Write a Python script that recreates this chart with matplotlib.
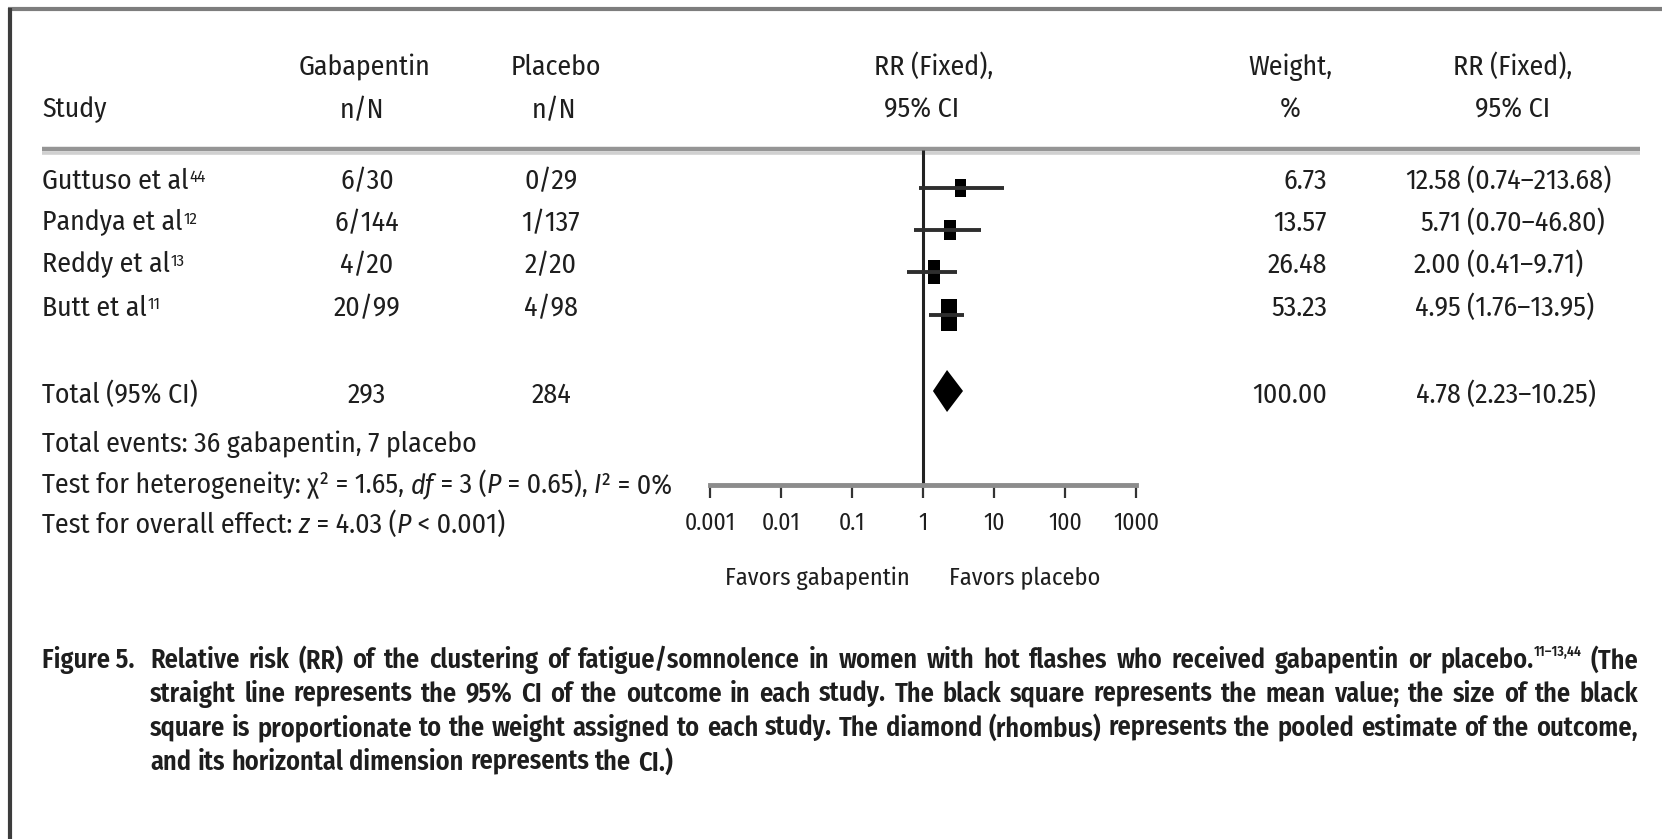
import matplotlib
matplotlib.use("Agg")
import matplotlib.pyplot as plt
from matplotlib.patches import Rectangle
from matplotlib.ticker import FixedLocator, FixedFormatter, NullLocator

plt.rcParams["font.family"] = ["Fira Sans Condensed", "DejaVu Sans"]

# ---- data -------------------------------------------------------------
studies = ["Guttuso et al", "Pandya et al", "Reddy et al", "Butt et al"]
study_refs = ["44", "12", "13", "11"]
gaba_nN = ["6/30", "6/144", "4/20", "20/99"]
plac_nN = ["0/29", "1/137", "2/20", "4/98"]
gaba_total = 293
plac_total = 284
weights = [6.73, 13.57, 26.48, 53.23]
total_weight = 100.00
rr_fixed = [12.58, 5.71, 2.00, 4.95]
rr_low = [0.74, 0.70, 0.41, 1.76]
rr_high = [213.68, 46.80, 9.71, 13.95]
total_rr = (4.78, 2.23, 10.25)

# marker positions as they sit on the printed log axis
plot_est = [3.4, 2.4, 1.43, 2.3]
plot_low = [0.88, 0.75, 0.60, 1.22]
plot_high = [13.8, 6.6, 3.0, 3.8]
plot_pooled = (2.18, 1.38, 3.66)

tick_values = [0.001, 0.01, 0.1, 1, 10, 100, 1000]
tick_labels = ["0.001", "0.01", "0.1", "1", "10", "100", "1000"]

caption_lines = [
    "straight line represents the 95% CI of the outcome in each study. The black square represents the mean value; the size of the black",
    "square is proportionate to the weight assigned to each study. The diamond (rhombus) represents the pooled estimate of the outcome,",
    "and its horizontal dimension represents the CI.)",
]

# ---- layout (pixel coordinates) ----------------------------------------
W, H = 1662, 839
FS = 20
CFS = 19
TXT = "#1e1e1e"
row_y = [181, 223, 265, 308]
total_y = 395
PX_PER_DEC = 71.0
CAP_X0, CAP_X1 = 150, 1638


def segments(ax, x, y, parts, fs):
    """Draw text pieces one after another; parts = [(text, style)]."""
    prev = None
    for s, style in parts:
        if prev is None:
            prev = ax.text(x, y, s, fontsize=fs, style=style, color=TXT,
                           ha="left", va="center")
        else:
            prev = ax.annotate(s, xy=(1, 0), xycoords=prev, fontsize=fs,
                               style=style, color=TXT, ha="left", va="bottom")
    return prev


def justify(ax, x0, x1, y, tokens, fill=True):
    """tokens = [(text, fontsize, yoffset, glued)]; spread words over x0..x1."""
    r = ax.figure.canvas.get_renderer()
    arts, widths = [], []
    for s, fs, dy, glued in tokens:
        t = ax.text(0, y + dy, s, fontsize=fs, color=TXT, weight="semibold",
                    ha="left", va="center" if dy == 0 else "top")
        arts.append(t)
        widths.append(t.get_window_extent(r).width)
    n_gaps = sum(1 for tk in tokens[1:] if not tk[3])
    space = CFS * 0.24 * 100 / 72
    if fill and n_gaps:
        space = (x1 - x0 - sum(widths)) / n_gaps
    x = x0
    for i, (t, w) in enumerate(zip(arts, widths)):
        if i and not tokens[i][3]:
            x += space
        t.set_x(x)
        x += w


fig = plt.figure(figsize=(W / 100, H / 100), dpi=100)
ax = fig.add_axes([0, 0, 1, 1])
ax.set_xlim(0, W)
ax.set_ylim(H, 0)
ax.axis("off")

# frame and header rule
ax.plot([8, W], [9, 9], color="#7d7d7d", lw=3, solid_capstyle="butt")
ax.plot([10, 10], [8, H], color="#3c3c3c", lw=3, solid_capstyle="butt")
ax.plot([42, 1640], [148.5, 148.5], color="#959595", lw=3.2, solid_capstyle="butt")
ax.plot([42, 1640], [153, 153], color="#d0d0d0", lw=2.6, solid_capstyle="butt")

# header
ax.text(42, 110, "Study", fontsize=FS, color=TXT, va="center")
for x, top in [(364, "Gabapentin"), (556, "Placebo")]:
    ax.text(x, 67, top, fontsize=FS, color=TXT, ha="center", va="center")
    ax.text(x - 2, 110, "n/N", fontsize=FS, color=TXT, ha="center", va="center")
ax.text(934, 67, "RR (Fixed),", fontsize=FS, color=TXT, ha="center", va="center")
ax.text(922, 110, "95% CI", fontsize=FS, color=TXT, ha="center", va="center")
ax.text(1290, 67, "Weight,", fontsize=FS, color=TXT, ha="center", va="center")
ax.text(1290, 110, "%", fontsize=FS, color=TXT, ha="center", va="center")
ax.text(1513, 67, "RR (Fixed),", fontsize=FS, color=TXT, ha="center", va="center")
ax.text(1513, 110, "95% CI", fontsize=FS, color=TXT, ha="center", va="center")


def rr_cell(y, est, lo, hi):
    ax.text(1461, y, f"{est:.2f}", fontsize=FS, color=TXT, ha="right", va="center")
    ax.text(1467, y, f"({lo:.2f}–{hi:.2f})", fontsize=FS, color=TXT, ha="left", va="center")


# study rows
for i, y in enumerate(row_y):
    t = ax.text(42, y, studies[i], fontsize=FS, color=TXT, va="center")
    ax.annotate(study_refs[i], xy=(1, 1), xycoords=t, xytext=(0.5, -1.5),
                textcoords="offset points", fontsize=12, color=TXT, ha="left", va="top")
    ax.text(367, y, gaba_nN[i], fontsize=FS, color=TXT, ha="center", va="center")
    ax.text(551, y, plac_nN[i], fontsize=FS, color=TXT, ha="center", va="center")
    ax.text(1327, y, f"{weights[i]:.2f}", fontsize=FS, color=TXT, ha="right", va="center")
    rr_cell(y, rr_fixed[i], rr_low[i], rr_high[i])

ax.text(42, total_y, "Total (95% CI)", fontsize=FS, color=TXT, va="center")
ax.text(367, total_y, str(gaba_total), fontsize=FS, color=TXT, ha="center", va="center")
ax.text(551, total_y, str(plac_total), fontsize=FS, color=TXT, ha="center", va="center")
ax.text(1327, total_y, f"{total_weight:.2f}", fontsize=FS, color=TXT, ha="right", va="center")
rr_cell(total_y, *total_rr)

ax.text(42, 444, "Total events: 36 gabapentin, 7 placebo", fontsize=FS, color=TXT, va="center")
segments(ax, 42, 485, [("Test for heterogeneity: χ² = 1.65, ", "normal"), ("df", "italic"),
                       (" = 3 (", "normal"), ("P", "italic"), (" = 0.65), ", "normal"),
                       ("I", "italic"), ("² = 0%", "normal")], FS)
segments(ax, 42, 525, [("Test for overall effect: ", "normal"), ("z", "italic"),
                       (" = 4.03 (", "normal"), ("P", "italic"), (" < 0.001)", "normal")], FS)

ax.text(817, 578, "Favors gabapentin", fontsize=17.5, color=TXT, ha="center", va="center")
ax.text(1025, 578, "Favors placebo", fontsize=17.5, color=TXT, ha="center", va="center")

# caption
ax.text(42, 660, "Figure 5.", fontsize=CFS, color=TXT, weight="semibold", va="center")
first = ("Relative risk (RR) of the clustering of fatigue/somnolence in women with hot "
         "flashes who received gabapentin or placebo.").split()
tokens = [(w, CFS, 0, False) for w in first]
tokens += [("11–13,44", 10, -15, True), ("(The", CFS, 0, False)]
justify(ax, CAP_X0, CAP_X1, 660, tokens)
for k, line in enumerate(caption_lines):
    justify(ax, CAP_X0, CAP_X1, 694 + 34 * k, [(w, CFS, 0, False) for w in line.split()],
            fill=k < len(caption_lines) - 1)

# ---- forest panel ------------------------------------------------------
fa = fig.add_axes([710 / W, 0, 426 / W, 1])
fa.set_xscale("log")
fa.set_xlim(tick_values[0], tick_values[-1])
fa.set_ylim(H, 0)
fa.patch.set_visible(False)
for side in ["top", "left", "right"]:
    fa.spines[side].set_visible(False)
fa.spines["bottom"].set_position(("data", 485))
fa.spines["bottom"].set_color("#8c8c8c")
fa.spines["bottom"].set_linewidth(3.5)
fa.xaxis.set_major_locator(FixedLocator(tick_values))
fa.xaxis.set_major_formatter(FixedFormatter(tick_labels))
fa.xaxis.set_minor_locator(NullLocator())
fa.set_yticks([])
fa.tick_params(axis="x", direction="out", length=9, width=1.6, color="#333333",
               pad=10, labelsize=17, labelcolor=TXT)

fa.vlines(1, 150, 485, color="#222222", lw=2.2)

for i, y in enumerate(row_y):
    ym = y + 7
    fa.hlines(ym, plot_low[i], plot_high[i], color="#2e2e2e", lw=2.8)
    w = 10 + 0.11 * weights[i]
    h = 17 + 0.27 * weights[i]
    f = 10 ** (w / 2 / PX_PER_DEC)
    fa.add_patch(Rectangle((plot_est[i] / f, ym - h / 2), plot_est[i] * f - plot_est[i] / f, h,
                           facecolor="black", edgecolor="none"))

est, lo, hi = plot_pooled
yd = total_y - 4
fa.fill([lo, est, hi, est], [yd, yd - 21, yd, yd + 21], color="black", lw=0)

fig.savefig("out.png", dpi=100)
